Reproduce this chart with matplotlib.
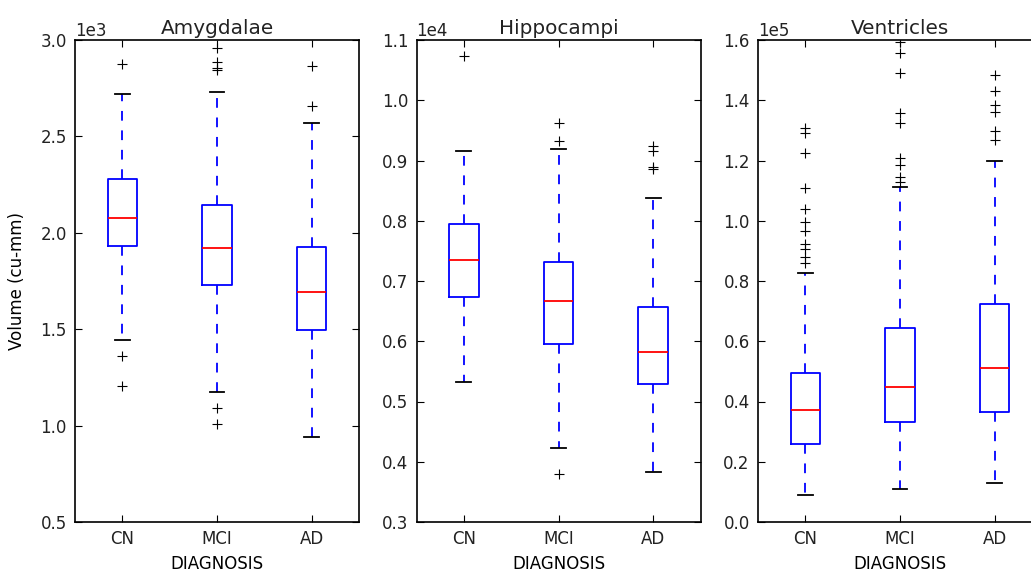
import numpy as np
import matplotlib
matplotlib.use("Agg")
import matplotlib.pyplot as plt

# box statistics (cu-mm)
groups = ["CN", "MCI", "AD"]

amyg_med = [2075, 1920, 1695]
amyg_q1 = [1930, 1730, 1496]
amyg_q3 = [2280, 2145, 1928]
amyg_lo = [1444, 1173, 939]
amyg_hi = [2720, 2730, 2568]
amyg_fliers = [[2875, 1360, 1205],
               [2958, 2886, 2855, 2845, 1090, 1008],
               [2865, 2658]]

hipp_med = [7344, 6670, 5817]
hipp_q1 = [6740, 5954, 5290]
hipp_q3 = [7946, 7310, 6563]
hipp_lo = [5324, 4228, 3825]
hipp_hi = [9150, 9190, 8370]
hipp_fliers = [[10735],
               [9620, 9330, 3797],
               [9246, 9163, 8897, 8860]]

vent_med = [37280, 44700, 51000]
vent_q1 = [25780, 33100, 36600]
vent_q3 = [49460, 64300, 72400]
vent_lo = [8800, 11000, 13050]
vent_hi = [82760, 111300, 119700]
vent_fliers = [[130700, 129200, 122400, 111000, 103800, 99500, 96600,
                92200, 90500, 88100, 85900],
               [159500, 155600, 149100, 135900, 132300, 120700, 118500,
                114600, 112900],
               [148400, 143200, 138400, 136200, 129900, 126800]]

titles = ["Amygdalae", "Hippocampi", "Ventricles"]
ylims = [(500, 3000), (3000, 11000), (0, 160000)]
yticks = [np.arange(500, 3001, 500), np.arange(3000, 11001, 1000),
          np.arange(0, 160001, 20000)]


def make_stats(med, q1, q3, lo, hi, fliers):
    stats = []
    for i, g in enumerate(groups):
        stats.append(dict(label=g, med=med[i], q1=q1[i], q3=q3[i],
                          whislo=lo[i], whishi=hi[i],
                          fliers=np.array(fliers[i])))
    return stats


all_stats = [
    make_stats(amyg_med, amyg_q1, amyg_q3, amyg_lo, amyg_hi, amyg_fliers),
    make_stats(hipp_med, hipp_q1, hipp_q3, hipp_lo, hipp_hi, hipp_fliers),
    make_stats(vent_med, vent_q1, vent_q3, vent_lo, vent_hi, vent_fliers),
]

plt.rcParams["font.size"] = 12
plt.rcParams["lines.scale_dashes"] = False
plt.rcParams["text.color"] = "#222222"
plt.rcParams["xtick.labelcolor"] = "#222222"
plt.rcParams["ytick.labelcolor"] = "#222222"

fig = plt.figure(figsize=(10.31, 5.76), dpi=100)
lefts = [75, 416.5, 758]

for k in range(3):
    ax = fig.add_axes([lefts[k] / 1031, 1 - 522 / 576, 284 / 1031, 482 / 576])
    ax.bxp(all_stats[k], widths=0.31,
           boxprops=dict(color="blue", linewidth=1.3),
           whiskerprops=dict(color="blue", linewidth=1.3, linestyle=(0, (7, 7))),
           capprops=dict(color="black", linewidth=1.3),
           medianprops=dict(color="red", linewidth=1.3),
           flierprops=dict(marker="+", markeredgecolor="black",
                           markersize=7, linestyle="none", markeredgewidth=0.8))
    ax.set_xlim(0.5, 3.5)
    ax.set_ylim(*ylims[k])
    ax.set_yticks(yticks[k])
    ax.ticklabel_format(axis="y", style="sci", scilimits=(0, 0))
    ax.yaxis.get_offset_text().set_fontsize(12)
    ax.tick_params(direction="in", top=True, right=True, length=5,
                   labelsize=12, pad=6)
    for sp in ax.spines.values():
        sp.set_linewidth(1.2)
    ax.set_title(titles[k], fontsize=14.4, pad=4)
    ax.set_xlabel("DIAGNOSIS", fontsize=12, labelpad=5)
    if k == 0:
        ax.set_ylabel("Volume (cu-mm)", fontsize=12, labelpad=10)

fig.savefig("out.png", dpi=100)
